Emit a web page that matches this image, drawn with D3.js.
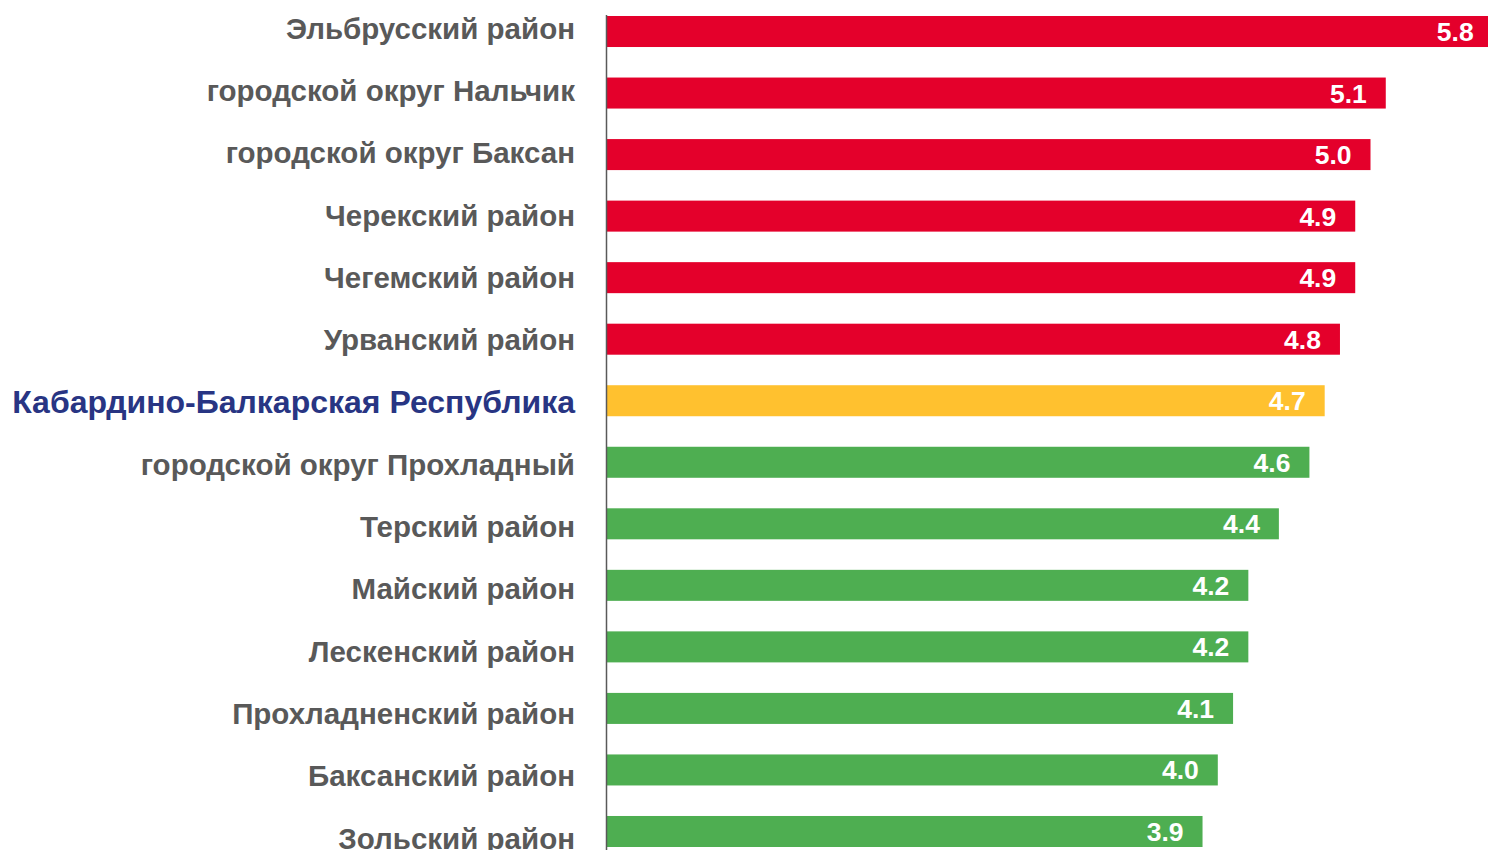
<!DOCTYPE html>
<meta charset="utf-8">
<script src="https://d3js.org/d3.v7.min.js"></script>
<style>
  body { margin: 0; background: #fff; }
  svg { display: block; font-family: "Liberation Sans", Arial, sans-serif; }
</style>
<body>
<div id="chart"></div>
<script>
  // data
  const regions = [
    "Эльбрусский район",
    "городской округ Нальчик",
    "городской округ Баксан",
    "Черекский район",
    "Чегемский район",
    "Урванский район",
    "Кабардино-Балкарская Республика",
    "городской округ Прохладный",
    "Терский район",
    "Майский район",
    "Лескенский район",
    "Прохладненский район",
    "Баксанский район",
    "Зольский район"
  ];
  const values = [5.8, 5.1, 5.0, 4.9, 4.9, 4.8, 4.7, 4.6, 4.4, 4.2, 4.2, 4.1, 4.0, 3.9];
  const average = "Кабардино-Балкарская Республика";

  const width = 1488, height = 850;
  const axisX = 607;

  const data = regions.map((r, i) => ({region: r, value: values[i]}));
  const avgValue = values[regions.indexOf(average)];

  const svg = d3.select("#chart").append("svg")
      .attr("width", width)
      .attr("height", height);

  // scales
  const x = d3.scaleLinear()
      .domain([0, 6])
      .range([axisX, axisX + 6 * 152.7]);
  const y = d3.scaleBand()
      .domain(regions)
      .range([16, 847])
      .paddingInner(0.496)
      .paddingOuter(0);
  // labels drift a little lower than the bars towards the bottom
  const yLabel = d3.scalePoint()
      .domain(regions)
      .range([28, 838]);

  const color = d => d.region === average ? "#FFC12F"
                   : d.value > avgValue ? "#E4002B" : "#4EAE51";

  // bars
  svg.append("g")
    .selectAll("rect")
    .data(data)
    .join("rect")
      .attr("x", x(0))
      .attr("y", d => y(d.region))
      .attr("width", d => x(d.value) - x(0))
      .attr("height", y.bandwidth())
      .attr("fill", color);

  // values inside bars
  svg.append("g")
    .selectAll("text")
    .data(data)
    .join("text")
      .attr("x", d => x(d.value) - 19)
      .attr("y", d => y(d.region) + y.bandwidth() / 2)
      .attr("dy", "0.36em")
      .attr("text-anchor", "end")
      .attr("fill", "#fff")
      .style("font-size", "26.5px")
      .style("font-weight", "bold")
      .text(d => d.value.toFixed(1));

  // category labels
  svg.append("g")
    .selectAll("text")
    .data(data)
    .join("text")
      .attr("x", 575)
      .attr("y", d => yLabel(d.region))
      .attr("dy", "0.36em")
      .attr("text-anchor", "end")
      .attr("fill", d => d.region === average ? "#283583" : "#595959")
      .style("font-size", d => d.region === average ? "32px" : "29.5px")
      .style("font-weight", "bold")
      .text(d => d.region);

  // vertical axis line
  svg.append("line")
      .attr("x1", axisX - 0.5).attr("x2", axisX - 0.5)
      .attr("y1", 15).attr("y2", height)
      .attr("stroke", "#595959")
      .attr("stroke-width", 1.5);
</script>
</body>
